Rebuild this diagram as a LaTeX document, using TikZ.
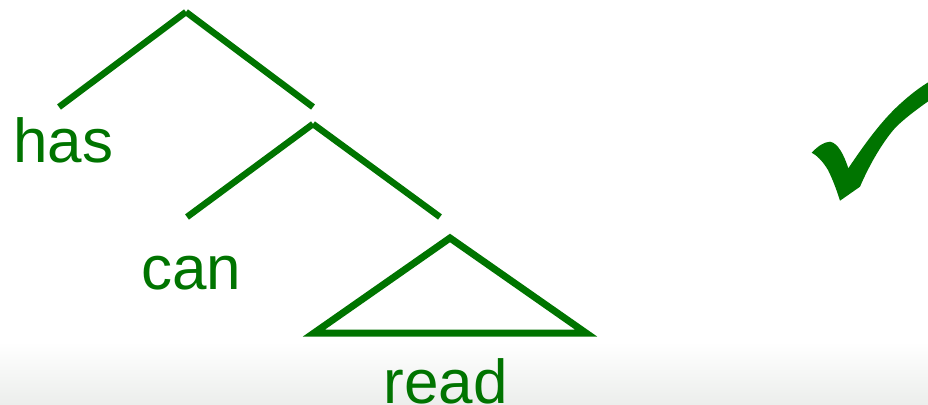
\documentclass[tikz,border=0pt]{standalone}
\usepackage{fontspec}
\setmainfont{Liberation Sans}
\definecolor{treegreen}{RGB}{0,116,0}
\definecolor{bandgray}{RGB}{236,238,236}
\begin{document}
\begin{tikzpicture}[x=1pt,y=-1pt,
  branch/.style={draw=treegreen,line width=6.5pt},
  tri/.style={draw=treegreen,line width=7pt,line join=miter},
  word/.style={text=treegreen,font=\fontsize{62}{74}\selectfont,inner sep=0pt,anchor=base}]
\useasboundingbox (0,0) rectangle (928,404);
\fill[white] (0,0) rectangle (928,404);
\shade[top color=white,bottom color=bandgray] (0,342) rectangle (928,404);
% tree
\coordinate (a1) at (186,12);
\coordinate (l1) at (59,107);
\coordinate (r1) at (313,107);
\coordinate (a2) at (313,124);
\coordinate (l2) at (187,217);
\coordinate (r2) at (440,217);
\coordinate (ta) at (450,238);
\coordinate (tl) at (314,333);
\coordinate (tr) at (586,333);
\draw[branch] (a1) -- (l1);
\draw[branch] (a1) -- (r1);
\draw[branch] (a2) -- (l2);
\draw[branch] (a2) -- (r2);
\draw[tri] (ta) -- (tl) -- (tr) -- cycle;
\node[word] (has) at (63.5,162) {has};
\node[word] (can) at (191,289) {can};
\node[word] (read) at (445.5,403) {read};
% check mark
\begin{scope}
\clip (0,0) rectangle (928,404);
\fill[treegreen] (811.7,152.7)
  .. controls (818,146) and (824,142) .. (830,141.7)
  .. controls (838,143) and (844,155) .. (848.3,168.3)
  .. controls (862,148) and (880,122) .. (900,104)
  .. controls (912,93) and (924,84) .. (936,78)
  -- (936,96)
  .. controls (918,108) and (900,122) .. (893.3,130)
  .. controls (880,146) and (868,168) .. (860,186.7)
  -- (840,200.7)
  .. controls (836,188) and (832,178) .. (828,170)
  .. controls (822,160) and (816,155) .. (811.7,152.7) -- cycle;
\end{scope}
\end{tikzpicture}
\end{document}
